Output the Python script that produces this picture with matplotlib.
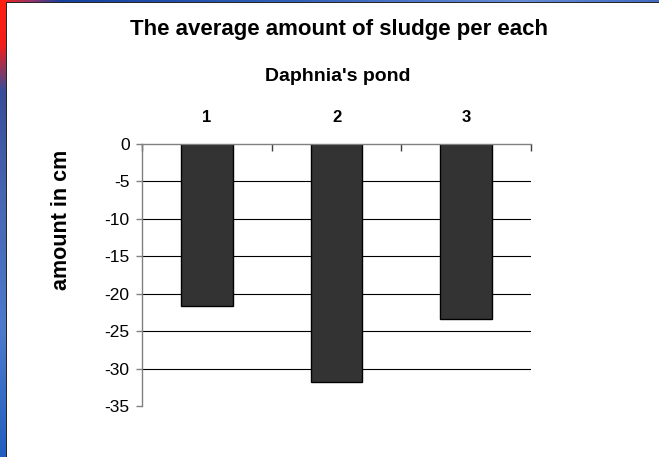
import numpy as np
import matplotlib.pyplot as plt

plt.rcParams['font.family'] = ['Liberation Sans', 'DejaVu Sans']

# average sludge per pond (cm, measured downward)
ponds = ['1', '2', '3']
sludge = [-21.6, -31.8, -23.4]
yticks = [0, -5, -10, -15, -20, -25, -30, -35]

fig = plt.figure(figsize=(6.59, 4.57), dpi=100)

# slide backdrop: red/blue strip along the left and top edges
h, w = 457, 659
bg = np.ones((h, w, 3))
ys = np.arange(h)
left = np.stack([
    np.interp(ys, [0, 45, 90, 200, 330, 456], [1.00, 0.95, 0.22, 0.28, 0.30, 0.13]),
    np.interp(ys, [0, 45, 90, 200, 330, 456], [0.12, 0.12, 0.30, 0.40, 0.48, 0.37]),
    np.interp(ys, [0, 45, 90, 200, 330, 456], [0.06, 0.10, 0.60, 0.70, 0.80, 0.75]),
], axis=1)
bg[:, :6, :] = left[:, None, :]
xs = np.arange(w)
top = np.stack([
    np.interp(xs, [0, 30, 60, 300, 520, 658], [1.00, 0.60, 0.08, 0.20, 0.40, 0.25]),
    np.interp(xs, [0, 30, 60, 300, 520, 658], [0.12, 0.20, 0.25, 0.38, 0.55, 0.42]),
    np.interp(xs, [0, 30, 60, 300, 520, 658], [0.06, 0.40, 0.62, 0.72, 0.85, 0.75]),
], axis=1)
bg[:2, 6:, :] = top[6:][None, :, :]
bg[2, 6:, :] = 0.15
bg[2:, 6, :] = 0.15
bgax = fig.add_axes([0, 0, 1, 1], zorder=-1)
bgax.imshow(bg, aspect='auto', interpolation='nearest')
bgax.axis('off')

ax = fig.add_axes([0.2155, 0.1116, 0.5903, 0.5733])
ax.set_facecolor('none')
x = np.arange(1, len(ponds) + 1)
ax.bar(x, sludge, width=0.4, color='#333333', edgecolor='black', linewidth=1.0, zorder=3)

ax.set_xlim(0.5, len(ponds) + 0.5)
ax.set_ylim(-35, 0)
ax.set_yticks(yticks)
ax.set_yticklabels([str(v) for v in yticks])

# horizontal gridlines, none on the axis ends
ax.yaxis.grid(True, color='black', linewidth=0.8, zorder=1)
for v, gl in zip(ax.get_yticks(), ax.get_ygridlines()):
    if v in (0, -35):
        gl.set_visible(False)

for side in ['right', 'bottom']:
    ax.spines[side].set_visible(False)
for side in ['left', 'top']:
    ax.spines[side].set_color('#808080')
    ax.spines[side].set_linewidth(1.0)
ax.spines['top'].set_zorder(4)

ax.tick_params(axis='y', direction='out', length=4, width=1, color='#808080',
               labelsize=12.5, pad=5)

# category labels on top, tick marks between categories
ax.xaxis.tick_top()
ax.set_xticks(x)
ax.set_xticklabels(ponds, fontweight='bold', fontsize=12)
ax.set_xticks(np.arange(0.5, len(ponds) + 1), minor=True)
ax.tick_params(axis='x', which='major', length=0, pad=14)
ax.tick_params(axis='x', which='minor', direction='in', length=5, width=1,
               color='#404040', top=True, bottom=False)

fig.text(0.514, 0.936, 'The average amount of sludge per each', ha='center', va='center',
         fontsize=16, fontweight='bold')
fig.text(0.512, 0.832, "Daphnia's pond", ha='center', va='center',
         fontsize=14, fontweight='bold')
fig.text(0.094, 0.518, 'amount in cm', ha='center', va='center', rotation=90,
         fontsize=15.5, fontweight='bold')

fig.savefig('out.png', dpi=100)
